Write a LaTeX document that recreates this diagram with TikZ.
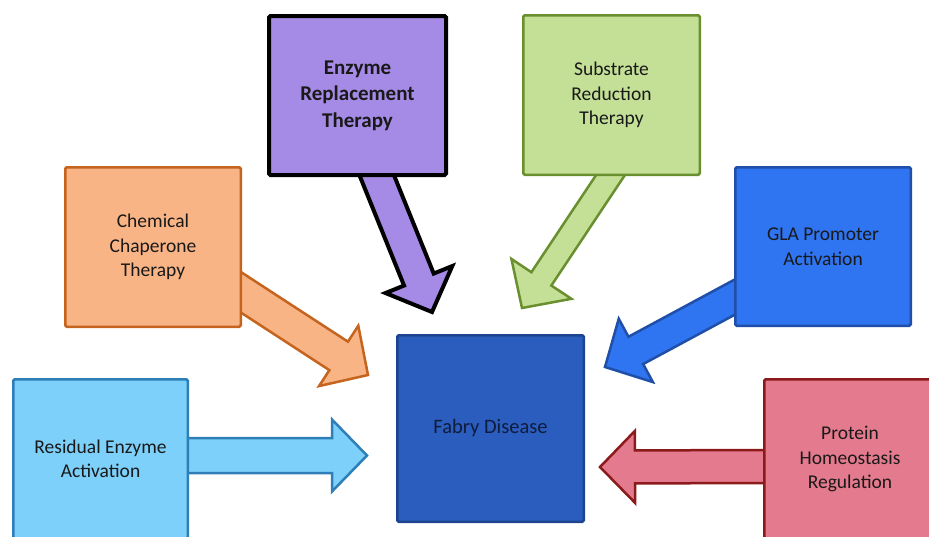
\documentclass[tikz,border=0pt]{standalone}
\usepackage{fontspec}
\setmainfont{Carlito}
\usetikzlibrary{calc,backgrounds}

\definecolor{ertfill}{HTML}{A68BE6}
\definecolor{srtfill}{HTML}{C4E096}
\definecolor{srtline}{HTML}{6A8F2E}
\definecolor{cctfill}{HTML}{F9B486}
\definecolor{cctline}{HTML}{C5641E}
\definecolor{glafill}{HTML}{2F74F0}
\definecolor{glaline}{HTML}{1F4FA8}
\definecolor{reafill}{HTML}{7DD0FA}
\definecolor{realine}{HTML}{2E7FB8}
\definecolor{phrfill}{HTML}{E47A8D}
\definecolor{phrline}{HTML}{8B1A1A}
\definecolor{fdfill}{HTML}{2A5DBE}
\definecolor{fdline}{HTML}{1E4490}
\definecolor{fdtext}{HTML}{101C3C}

\tikzset{
  box/.style={draw, line width=2.5pt, rounded corners=1.5pt, align=center, inner sep=0pt,
    text=black!90, font=\fontsize{19.5}{24.5}\selectfont},
  barrow/.style={line width=2.5pt, line join=miter}
}

% block arrow: [shaft half width]{style}{tail}{tip}
\newcommand{\blockarrow}[4][16]{%
  \coordinate (hb) at ($(#4)!35pt!(#3)$);
  \draw[barrow, #2] ($(#3)!#1pt!90:(#4)$) -- ($(hb)!#1pt!-90:(#3)$)
    -- ($(hb)!36pt!-90:(#3)$) -- (#4) -- ($(hb)!36pt!90:(#3)$)
    -- ($(hb)!#1pt!90:(#3)$) -- ($(#3)!#1pt!-90:(#4)$) -- cycle;
}

\begin{document}
\begin{tikzpicture}[x=1pt, y=-1pt]
\useasboundingbox (0,0) rectangle (929,536);

\node[box, fill=ertfill, line width=4pt, minimum width=177pt, minimum height=159pt,
  font=\bfseries\fontsize{21}{26.5}\selectfont] (ert) at (357.5,95.5) {Enzyme\\Replacement\\Therapy};
\node[box, fill=srtfill, draw=srtline, minimum width=176.5pt, minimum height=159.5pt] (srt) at (611.5,95) {Substrate\\Reduction\\Therapy};
\node[box, fill=cctfill, draw=cctline, minimum width=175.5pt, minimum height=159.5pt] (cct) at (153,247) {Chemical\\Chaperone\\Therapy};
\node[box, fill=glafill, draw=glaline, minimum width=175.5pt, minimum height=158.5pt] (gla) at (823,246.5) {GLA Promoter\\Activation};
\node[box, fill=reafill, draw=realine, minimum width=174.5pt, minimum height=159.5pt] (rea) at (100.5,459) {Residual Enzyme\\Activation};
\node[box, fill=phrfill, draw=phrline, minimum width=171.5pt, minimum height=159.5pt] (phr) at (850,459) {Protein\\Homeostasis\\Regulation};
\node[box, fill=fdfill, draw=fdline, minimum width=186.5pt, minimum height=186.5pt,
  text=fdtext, font=\fontsize{20.5}{24}\selectfont] (fd) at (490.5,428.5) {Fabry Disease};

\coordinate (ert-tip) at (432,312);
\coordinate (srt-tip) at (522,308);
\coordinate (cct-tip) at (368,375);
\coordinate (gla-tip) at (605,367);
\coordinate (rea-tip) at (367,455.5);
\coordinate (phr-tip) at (600,467);

\begin{scope}[on background layer]
\coordinate (ert-tail) at ($(ert.south)+(15.5,-11)$);
\coordinate (srt-tail) at ($(srt.south)+(5,-10)$);
\coordinate (cct-tail) at ($(cct.east)+(-10,39.5)$);
\coordinate (gla-tail) at ($(gla.west)+(10.6,45.3)$);
\coordinate (rea-tail) at ($(rea.east)+(-12,-3.5)$);
\coordinate (phr-tail) at ($(phr.west)+(12,7.5)$);

\blockarrow{fill=ertfill, draw=black, line width=4pt}{ert-tail}{ert-tip}
\blockarrow[12]{fill=srtfill, draw=srtline}{srt-tail}{srt-tip}
\blockarrow[17]{fill=cctfill, draw=cctline}{cct-tail}{cct-tip}
\blockarrow[15.5]{fill=glafill, draw=glaline}{gla-tail}{gla-tip}
\blockarrow[17.5]{fill=reafill, draw=realine}{rea-tail}{rea-tip}
\blockarrow[16.5]{fill=phrfill, draw=phrline}{phr-tail}{phr-tip}
\end{scope}

\end{tikzpicture}
\end{document}
